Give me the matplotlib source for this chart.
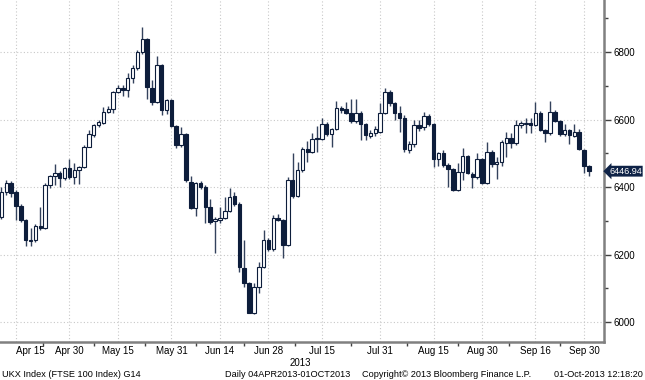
import matplotlib

matplotlib.use("Agg")
import matplotlib.pyplot as plt
import matplotlib.transforms as mtransforms
import numpy as np
import pandas as pd

# UK trading days shown on the chart (first few days of the range are cut off at the left)
uk_holidays = ["2013-05-06", "2013-05-27", "2013-08-26"]
dates = pd.bdate_range("2013-04-10", "2013-10-01")
dates = dates[~dates.isin(pd.to_datetime(uk_holidays))]

opens = [6312, 6386, 6413, 6385, 6344, 6302, 6240, 6243, 6286, 6278,
         6406, 6433, 6443, 6426, 6456, 6430, 6449, 6459, 6519, 6554,
         6584, 6591, 6623, 6630, 6682, 6692, 6688, 6722, 6754, 6801,
         6838, 6692, 6653, 6761, 6628, 6658, 6581, 6524, 6556, 6415,
         6338, 6412, 6400, 6341, 6300, 6302, 6308, 6328, 6374, 6350,
         6159, 6115, 6028, 6103, 6164, 6243, 6215, 6307, 6302, 6228,
         6421, 6373, 6450, 6512, 6505, 6545, 6543, 6587, 6557, 6571,
         6633, 6630, 6620, 6595, 6620, 6587, 6551, 6559, 6564, 6620,
         6681, 6648, 6618, 6604, 6510, 6527, 6583, 6579, 6610, 6587,
         6483, 6500, 6465, 6452, 6391, 6445, 6492, 6439, 6429, 6482,
         6413, 6505, 6468, 6475, 6531, 6546, 6529, 6584, 6587, 6589,
         6584, 6620, 6569, 6559, 6623, 6597, 6556, 6569, 6551, 6564,
         6510, 6462]
highs = [6401, 6421, 6418, 6390, 6350, 6306, 6278, 6290, 6340, 6411,
         6436, 6468, 6447, 6460, 6482, 6470, 6462, 6524, 6569, 6588,
         6600, 6636, 6640, 6685, 6702, 6702, 6737, 6760, 6805, 6875,
         6842, 6717, 6788, 6765, 6662, 6662, 6585, 6577, 6560, 6433,
         6415, 6418, 6405, 6364, 6310, 6342, 6370, 6396, 6385, 6355,
         6243, 6120, 6115, 6179, 6273, 6248, 6317, 6320, 6306, 6431,
         6500, 6475, 6520, 6535, 6559, 6580, 6604, 6592, 6575, 6656,
         6640, 6652, 6660, 6660, 6624, 6590, 6570, 6580, 6650, 6692,
         6686, 6652, 6640, 6612, 6535, 6600, 6600, 6623, 6615, 6590,
         6505, 6510, 6470, 6455, 6470, 6515, 6495, 6445, 6502, 6485,
         6534, 6510, 6490, 6540, 6564, 6560, 6600, 6595, 6604, 6604,
         6653, 6625, 6572, 6656, 6627, 6600, 6586, 6572, 6586, 6571,
         6513, 6466]
lows = [6305, 6376, 6371, 6302, 6296, 6225, 6226, 6238, 6272, 6276,
        6396, 6406, 6401, 6421, 6425, 6409, 6409, 6455, 6518, 6547,
        6578, 6586, 6618, 6618, 6678, 6670, 6668, 6707, 6748, 6795,
        6660, 6643, 6650, 6613, 6615, 6578, 6515, 6520, 6415, 6335,
        6314, 6395, 6292, 6290, 6205, 6293, 6305, 6325, 6345, 6149,
        6105, 6028, 6025, 6085, 6160, 6212, 6212, 6298, 6189, 6225,
        6368, 6370, 6445, 6475, 6500, 6505, 6540, 6550, 6518, 6568,
        6620, 6615, 6590, 6590, 6539, 6539, 6545, 6550, 6560, 6615,
        6640, 6600, 6564, 6505, 6500, 6520, 6565, 6570, 6580, 6460,
        6462, 6460, 6399, 6388, 6388, 6421, 6440, 6396, 6425, 6410,
        6410, 6460, 6423, 6462, 6490, 6515, 6525, 6575, 6559, 6559,
        6580, 6565, 6534, 6555, 6592, 6552, 6550, 6527, 6547, 6510,
        6441, 6434]
closes = [6386, 6413, 6383, 6344, 6302, 6243, 6243, 6284, 6280, 6406,
          6433, 6443, 6426, 6456, 6430, 6449, 6459, 6519, 6557, 6584,
          6594, 6623, 6632, 6682, 6692, 6687, 6724, 6754, 6801, 6838,
          6695, 6653, 6761, 6628, 6658, 6581, 6524, 6556, 6421, 6338,
          6412, 6400, 6341, 6296, 6304, 6307, 6328, 6370, 6350, 6162,
          6115, 6028, 6103, 6164, 6243, 6215, 6307, 6302, 6228, 6421,
          6373, 6450, 6512, 6505, 6541, 6543, 6587, 6557, 6571, 6633,
          6628, 6620, 6597, 6620, 6587, 6554, 6559, 6571, 6620, 6681,
          6648, 6618, 6604, 6512, 6527, 6583, 6574, 6609, 6587, 6483,
          6500, 6465, 6452, 6391, 6445, 6492, 6443, 6429, 6482, 6413,
          6505, 6468, 6475, 6534, 6546, 6529, 6584, 6589, 6590, 6584,
          6620, 6569, 6559, 6623, 6597, 6557, 6569, 6554, 6564, 6512,
          6462, 6446.94]

tick_dates = ["2013-04-15", "2013-04-30", "2013-05-15", "2013-05-31", "2013-06-14",
              "2013-06-28", "2013-07-15", "2013-07-31", "2013-08-15", "2013-08-30",
              "2013-09-16", "2013-09-30"]
tick_labels = ["Apr 15", "Apr 30", "May 15", "May 31", "Jun 14", "Jun 28",
               "Jul 15", "Jul 31", "Aug 15", "Aug 30", "Sep 16", "Sep 30"]
y_ticks = [6000, 6200, 6400, 6600, 6800]
y_minor = [6100, 6300, 6500, 6700, 6900]

NAVY = "#0d1d3b"
WICK = "#33425c"
GREY = "#808080"
FONT = "Liberation Sans"

o = np.array(opens, dtype=float)
h = np.array(highs, dtype=float)
l = np.array(lows, dtype=float)
c = np.array(closes, dtype=float)
x = np.arange(len(c))
up = c >= o

fig = plt.figure(figsize=(6.45, 3.8), dpi=100)
ax = fig.add_axes([0.0, 0.1, 604 / 645, 0.9])

# dotted grid
for v in y_ticks:
    ax.axhline(v, color="#c8c8c8", lw=0.8, ls=(0, (1, 2)), zorder=0)
tick_pos = [int(np.where(dates == pd.Timestamp(d))[0][0]) for d in tick_dates]
for p in tick_pos:
    ax.axvline(p, color="#c8c8c8", lw=0.8, ls=(0, (1, 2)), zorder=0)

# candles
ax.vlines(x, l, h, color=WICK, lw=1.0, zorder=2)
body_lo = np.minimum(o, c)
body_h = np.maximum(np.abs(c - o), 1.5)
ax.bar(x[up], body_h[up], bottom=body_lo[up], width=0.72,
       facecolor="white", edgecolor=NAVY, linewidth=0.8, zorder=3)
ax.bar(x[~up], body_h[~up], bottom=body_lo[~up], width=0.72,
       facecolor=NAVY, edgecolor=NAVY, linewidth=0.8, zorder=3)

ax.set_xlim(-0.30, 124.11)
ax.set_ylim(5941, 6954)

for side in ("left", "top"):
    ax.spines[side].set_visible(False)
for side in ("right", "bottom"):
    ax.spines[side].set_color(GREY)
    ax.spines[side].set_linewidth(1.8)

ax.yaxis.tick_right()
ax.set_yticks(y_ticks)
ax.set_yticklabels([str(v) for v in y_ticks], fontsize=7, family=FONT)
ax.set_yticks(y_minor, minor=True)
ax.tick_params(axis="y", which="major", length=5, width=1, color="#404040", pad=2)
ax.tick_params(axis="y", which="minor", length=3, width=1, color="#404040")

ax.set_xticks(tick_pos)
ax.set_xticklabels(tick_labels, fontsize=7, family=FONT)
ax.set_xticks([(a + b) / 2 for a, b in zip(tick_pos[:-1], tick_pos[1:])], minor=True)
ax.tick_params(axis="x", which="major", length=0, pad=3)
ax.tick_params(axis="x", which="minor", length=3, width=1, color="#404040")
ax.get_xticklabels()[0].set_horizontalalignment("left")

# last price tag
trans = mtransforms.blended_transform_factory(ax.transAxes, ax.transData)
ax.text(609 / 604, closes[-1], f"{closes[-1]:.2f}", transform=trans,
        ha="left", va="center", color="white", fontsize=6.6, family=FONT,
        bbox=dict(boxstyle="larrow,pad=0.1", fc="#0f2347", ec="none"),
        zorder=5, clip_on=False)

fig.text(0.465, 0.045, "2013", ha="center", va="center", fontsize=7, family=FONT)
fig.text(2 / 645, 0.015, "UKX Index (FTSE 100 Index) G14", ha="left", va="center",
         fontsize=6.6, family=FONT)
fig.text(225 / 645, 0.015, "Daily 04APR2013-01OCT2013", ha="left", va="center",
         fontsize=6.6, family=FONT)
fig.text(362 / 645, 0.015, "Copyright\u00a9 2013 Bloomberg Finance L.P.", ha="left",
         va="center", fontsize=6.6, family=FONT)
fig.text(643 / 645, 0.015, "01-Oct-2013 12:18:20", ha="right", va="center",
         fontsize=6.6, family=FONT)

fig.savefig("out.png", dpi=100)
plt.close(fig)
